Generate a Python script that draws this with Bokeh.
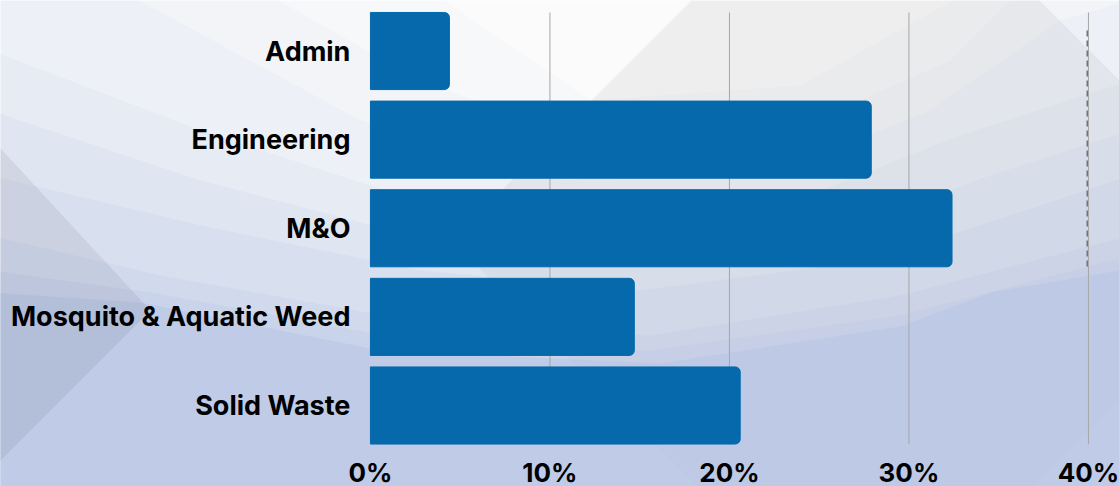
from bokeh.plotting import figure
from bokeh.models import Range1d, FixedTicker, NumeralTickFormatter, LinearAxis
from bokeh.embed import file_html
from bokeh.resources import INLINE

# ---------------- data ----------------
departments = ["Admin", "Engineering", "M&O", "Mosquito & Aquatic Weed", "Solid Waste"]
shares = [0.044, 0.279, 0.324, 0.147, 0.206]
x_ticks = [0.0, 0.1, 0.2, 0.3, 0.4]
grid_ticks = [0.1, 0.2, 0.3, 0.4]

rows = list(range(len(departments)))  # 0 = top row
BAR_H = 0.87

# ---------------- figure (frame covers the whole canvas) ----------------
W, H = 1119, 486
p = figure(width=W, height=H, output_backend="svg", toolbar_location=None,
           x_axis_type=None, y_axis_type=None,
           x_range=Range1d(-0.2061, 0.4173),
           y_range=Range1d(4.914, -0.570),
           min_border=0)
p.min_border_left = p.min_border_right = p.min_border_top = p.min_border_bottom = 0
p.border_fill_color = "#fbfbfb"
p.background_fill_color = "#fbfbfb"
p.outline_line_color = None

# pixel-like ranges for decorative background shapes
p.extra_x_ranges = {"bgx": Range1d(0, W)}
p.extra_y_ranges = {"bgy": Range1d(H, 0)}

# ---------------- decorative halftone-like background ----------------
DOT = "#b8c5e5"
coverage = [0.05, 0.12, 0.2, 0.3, 0.4, 0.5, 0.6, 0.72, 0.89]
contours = [
    [(-10, -10), (430, -10), (590, 100), (800, 85), (970, -10), (1130, -10)],
    [(-10, -10), (260, -10), (420, 80), (580, 140), (790, 130), (950, 60), (1020, -10), (1130, -10)],
    [(-10, -10), (120, -10), (360, 120), (560, 180), (780, 170), (930, 110), (1060, 20), (1130, 0)],
    [(-10, 50), (200, 130), (400, 195), (600, 205), (820, 190), (960, 135), (1130, 80)],
    [(-10, 110), (200, 180), (410, 235), (620, 250), (840, 230), (990, 175), (1130, 130)],
    [(-10, 175), (200, 225), (420, 270), (640, 290), (870, 260), (1010, 215), (1130, 175)],
    [(-10, 235), (160, 275), (400, 318), (650, 335), (900, 295), (1130, 235)],
    [(-10, 270), (150, 292), (390, 336), (650, 350), (900, 315), (1130, 255)],
    [(-10, 292), (140, 302), (380, 350), (660, 363), (900, 326), (990, 292), (1130, 268)],
]

def bg_patch(pts, color, alpha):
    p.patch([a for a, _ in pts], [b for _, b in pts], fill_color=color, fill_alpha=alpha,
            line_color=None, x_range_name="bgx", y_range_name="bgy")

# folded gray diamond
bg_patch([(865, -174), (1279, 240), (865, 654), (451, 240)], "#000000", 0.05)
prev = 0.0
for line, c in zip(contours, coverage):
    bg_patch(line + [(1130, 500), (-10, 500)], DOT, 1 - (1 - c) / (1 - prev))
    prev = c
# darker fold at lower left
bg_patch([(-10, 137), (150, 310), (-10, 470)], "#000000", 0.06)
# dashed fold line on the right
p.line([1087, 1087], [30, 268], line_color="#6e7080", line_width=2, line_dash="6 4",
       x_range_name="bgx", y_range_name="bgy")

# ---------------- grid lines (span of bars) ----------------
p.segment(x0=grid_ticks, x1=grid_ticks,
          y0=[rows[0] - BAR_H / 2] * len(grid_ticks),
          y1=[rows[-1] + BAR_H / 2] * len(grid_ticks),
          line_color="#a6a6a6", line_width=1)

# ---------------- bars ----------------
p.hbar(y=rows, left=0, right=shares, height=BAR_H, color="#0569ab",
       border_radius=(0, 5, 5, 0))

# ---------------- axes (fixed inside the full-canvas frame) ----------------
xaxis = LinearAxis(ticker=FixedTicker(ticks=x_ticks),
                   formatter=NumeralTickFormatter(format="0%"),
                   y_range_name="bgy", fixed_location=449)
yaxis = LinearAxis(ticker=FixedTicker(ticks=rows),
                   major_label_overrides={i: d for i, d in zip(rows, departments)},
                   fixed_location=0)
p.add_layout(xaxis, "below")
p.add_layout(yaxis, "left")

for ax, size in ((xaxis, "26px"), (yaxis, "27px")):
    ax.axis_line_color = None
    ax.major_tick_line_color = None
    ax.minor_tick_line_color = None
    ax.major_tick_in = 0
    ax.major_tick_out = 0
    ax.major_label_text_font = "Inter"
    ax.major_label_text_font_style = "bold"
    ax.major_label_text_font_size = size
    ax.major_label_text_color = "#000000"

xaxis.major_label_standoff = 7
yaxis.major_label_standoff = 20

open("out.html", "w").write(file_html(p, INLINE))
